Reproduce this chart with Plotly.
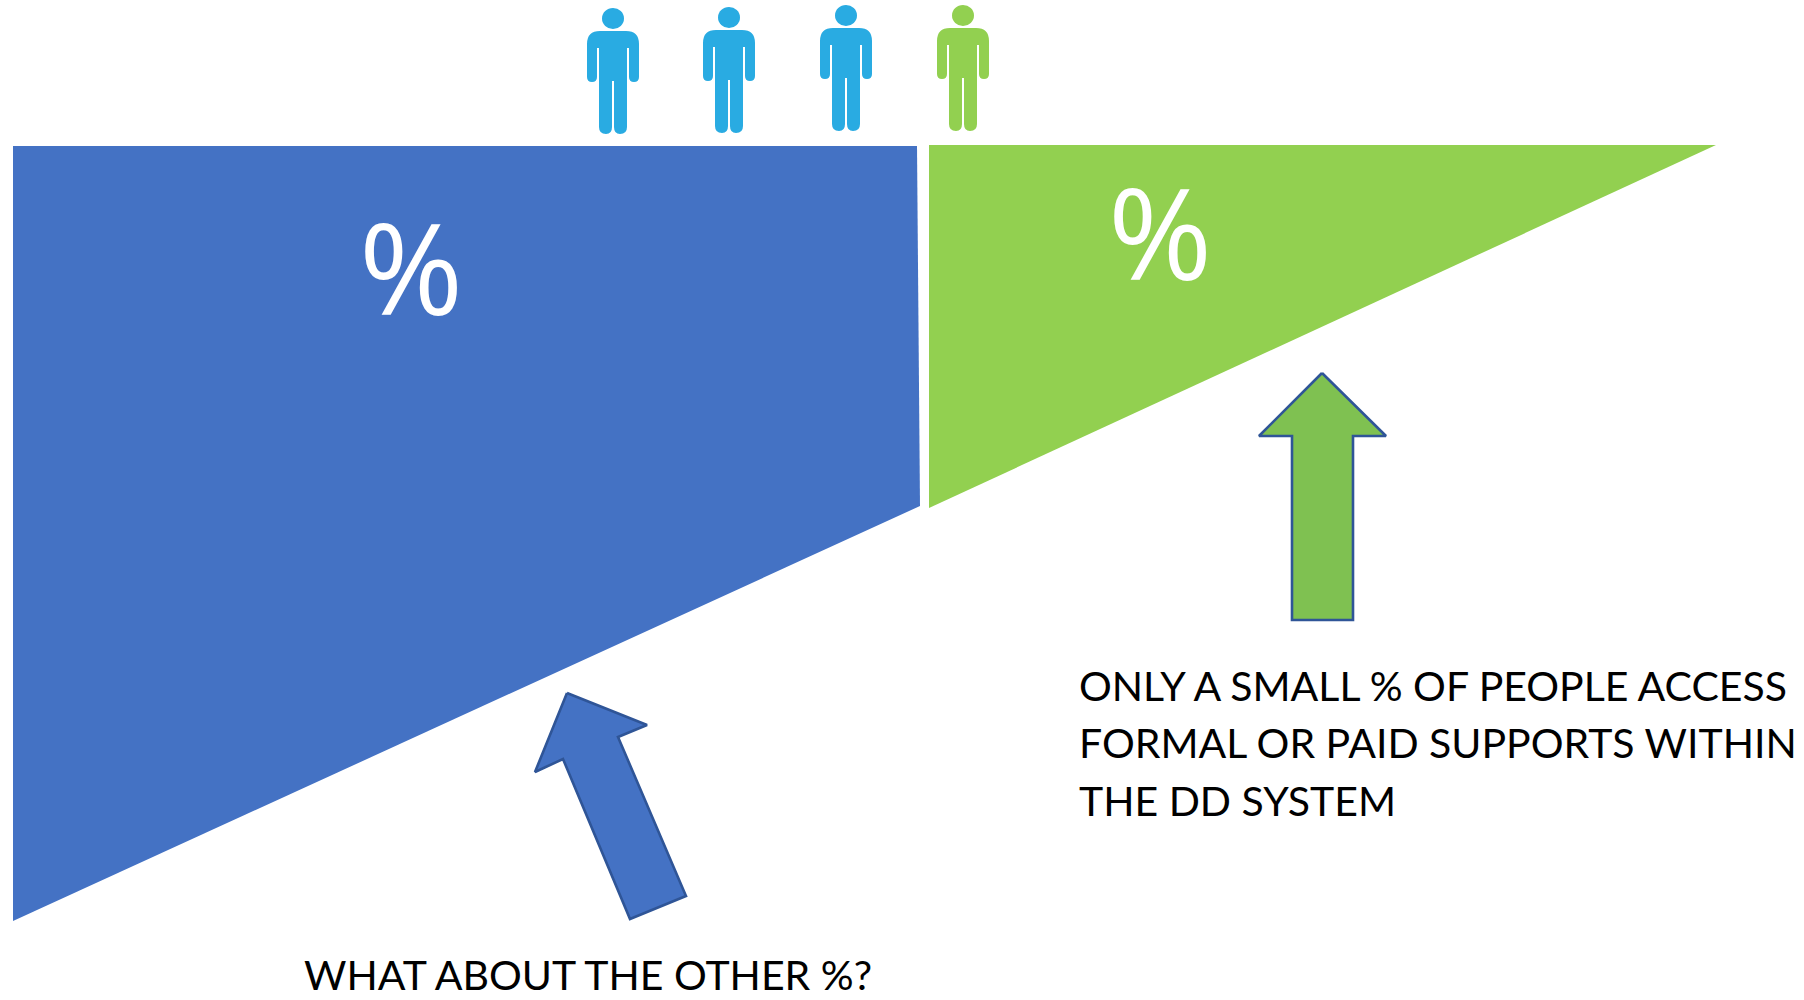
import plotly.graph_objects as go

WIDTH, HEIGHT = 1804, 1000
BLUE = "#4472C4"
GREEN = "#92D050"
PERSON_BLUE = "#29ABE2"
ARROW_GREEN = "#7FC151"
ARROW_EDGE = "#2F5597"
FONT = "Lato"
PERCENT_FONT = "Open Sans"

# Funnel halves
blue_x = [13, 917, 920, 13]
blue_y = [146, 146, 506, 921]
green_x = [929, 1716, 929]
green_y = [145, 145, 508]

# Arrows
up_arrow_x = [1322, 1386, 1353, 1353, 1292, 1292, 1259]
up_arrow_y = [373, 436, 436, 620, 620, 436, 436]
tilted_arrow_x = [567, 647, 618, 686, 630, 563, 535]
tilted_arrow_y = [693, 725, 737, 896, 919, 759, 772]

# People: centre, shoulder line, colour
person_x = [613, 729, 846, 963]
person_top = [31, 30, 28, 28]
person_colors = [PERSON_BLUE, PERSON_BLUE, PERSON_BLUE, GREEN]

percent_labels = ["%", "%"]
percent_x = [411, 1160]
percent_y = [266, 231]

access_lines = [
    "ONLY A SMALL % OF PEOPLE ACCESS",
    "FORMAL OR PAID SUPPORTS WITHIN",
    "THE DD SYSTEM",
]
access_x = 1077
access_y = [685, 742, 800]
other_label = "WHAT ABOUT THE OTHER %?"
other_x = 302
other_y = 974


def closed(values):
    return list(values) + [values[0]]


def body_path(cx, top):
    """Torso, arms and legs of a standing figure, outlined clockwise."""
    return " ".join([
        f"M{cx - 13},{top}",
        f"L{cx + 13},{top}",
        f"Q{cx + 26},{top} {cx + 26},{top + 13}",
        f"L{cx + 26},{top + 46}",
        f"Q{cx + 26},{top + 51} {cx + 21},{top + 51}",
        f"Q{cx + 16},{top + 51} {cx + 16},{top + 46}",
        f"L{cx + 16},{top + 17}",
        f"L{cx + 14},{top + 17}",
        f"L{cx + 14},{top + 96}",
        f"Q{cx + 14},{top + 103} {cx + 7},{top + 103}",
        f"Q{cx + 1},{top + 103} {cx + 1},{top + 96}",
        f"L{cx + 1},{top + 50}",
        f"L{cx - 1},{top + 50}",
        f"L{cx - 1},{top + 96}",
        f"Q{cx - 1},{top + 103} {cx - 7},{top + 103}",
        f"Q{cx - 14},{top + 103} {cx - 14},{top + 96}",
        f"L{cx - 14},{top + 17}",
        f"L{cx - 16},{top + 17}",
        f"L{cx - 16},{top + 46}",
        f"Q{cx - 16},{top + 51} {cx - 21},{top + 51}",
        f"Q{cx - 26},{top + 51} {cx - 26},{top + 46}",
        f"L{cx - 26},{top + 13}",
        f"Q{cx - 26},{top} {cx - 13},{top}",
        "Z",
    ])


fig = go.Figure()


def add_polygon(xs, ys, fill, edge=None, edge_width=0):
    fig.add_trace(go.Scatter(
        x=closed(xs), y=closed(ys), mode="lines", fill="toself",
        fillcolor=fill, hoverinfo="skip", showlegend=False,
        line=dict(color=edge or fill, width=edge_width),
    ))


add_polygon(blue_x, blue_y, BLUE)
add_polygon(green_x, green_y, GREEN)
add_polygon(up_arrow_x, up_arrow_y, ARROW_GREEN, ARROW_EDGE, 2.6)
add_polygon(tilted_arrow_x, tilted_arrow_y, BLUE, ARROW_EDGE, 2.6)

shapes = []
for cx, top, color in zip(person_x, person_top, person_colors):
    shapes.append(dict(type="path", path=body_path(cx, top), fillcolor=color,
                       line=dict(width=0), layer="above"))
    shapes.append(dict(type="circle", x0=cx - 11, x1=cx + 11, y0=top - 23, y1=top - 2,
                       fillcolor=color, line=dict(width=0), layer="above"))

annotations = []
for label, x, y in zip(percent_labels, percent_x, percent_y):
    annotations.append(dict(x=x, y=y, text=label, showarrow=False, xanchor="center",
                            yanchor="middle",
                            font=dict(family=PERCENT_FONT, size=126, color="white")))
for line, y in zip(access_lines, access_y):
    annotations.append(dict(x=access_x, y=y, text=line, showarrow=False, xanchor="left",
                            yanchor="middle", font=dict(family=FONT, size=41, color="black")))
annotations.append(dict(x=other_x, y=other_y, text=other_label, showarrow=False, xanchor="left",
                        yanchor="middle", font=dict(family=FONT, size=41, color="black")))

fig.update_layout(
    width=WIDTH, height=HEIGHT,
    margin=dict(l=0, r=0, t=0, b=0),
    paper_bgcolor="white", plot_bgcolor="white",
    xaxis=dict(range=[0, WIDTH], visible=False, fixedrange=True),
    yaxis=dict(range=[HEIGHT, 0], visible=False, fixedrange=True),
    shapes=shapes, annotations=annotations,
)

fig.write_html("out.html", config=dict(displayModeBar=False))
